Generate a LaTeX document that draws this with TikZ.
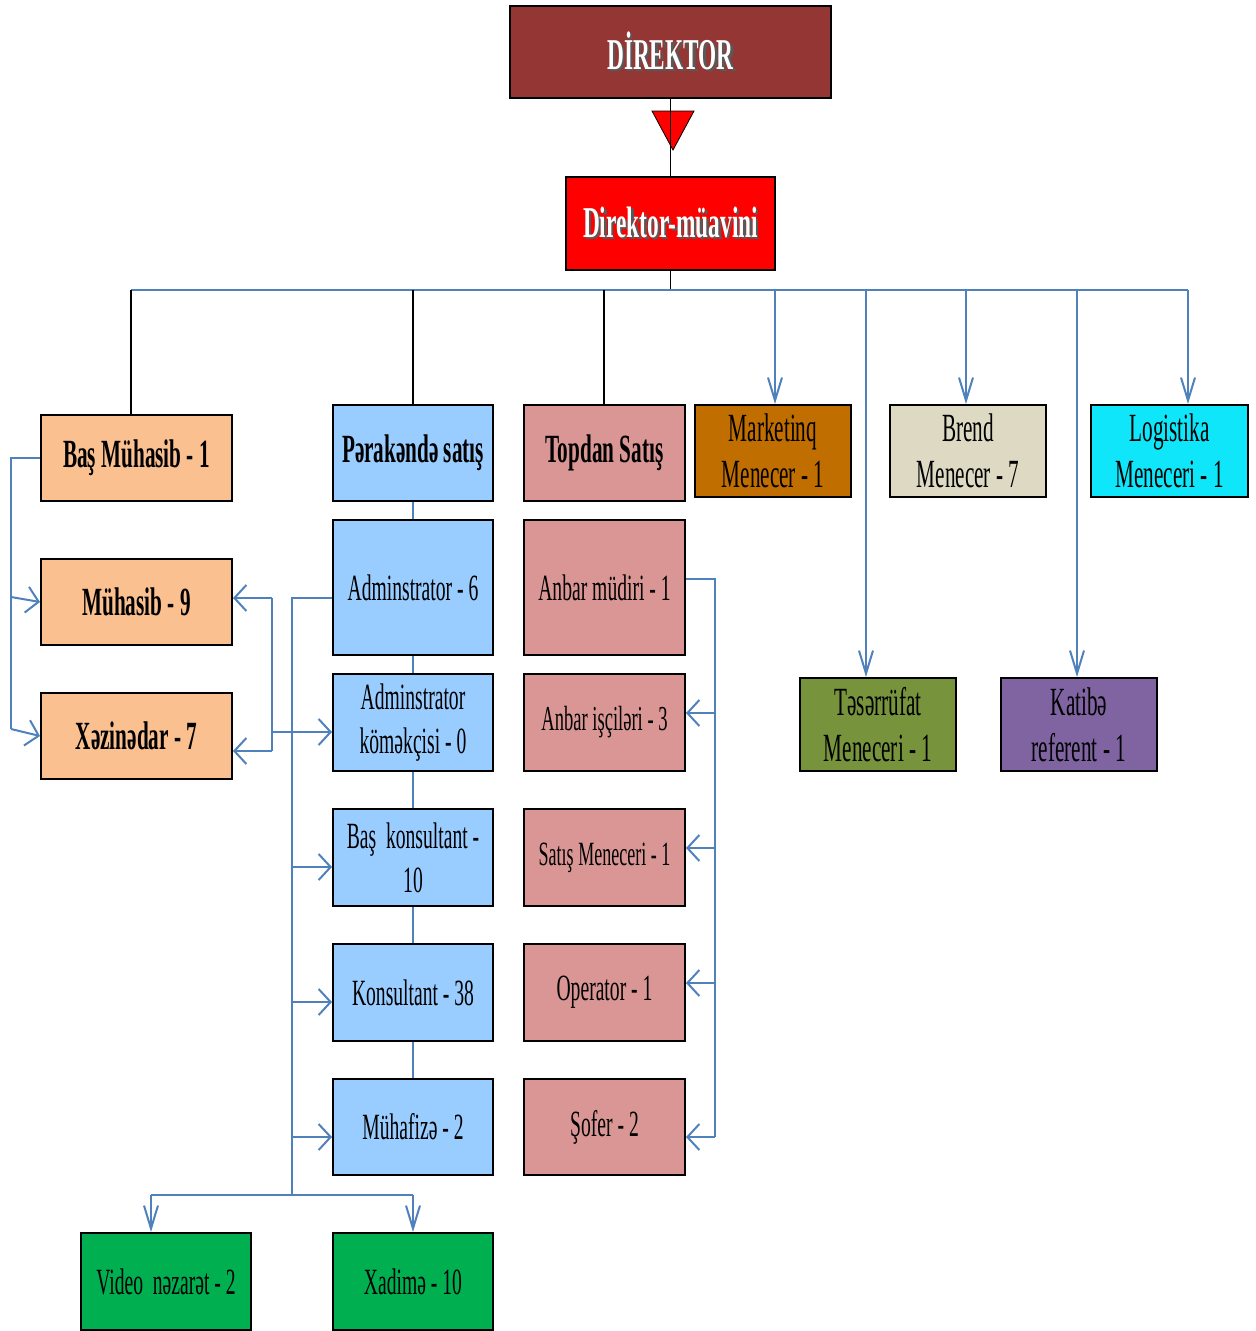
\documentclass[tikz,border=0pt]{standalone}
\usepackage{fontspec}
\setmainfont[FakeStretch=0.53]{Liberation Serif}
\usetikzlibrary{arrows.meta}

\definecolor{dirred}{RGB}{148,54,52}
\definecolor{depred}{RGB}{255,0,0}
\definecolor{peach}{RGB}{250,192,144}
\definecolor{skyblue}{RGB}{153,204,255}
\definecolor{rosepink}{RGB}{217,150,148}
\definecolor{amber}{RGB}{192,110,0}
\definecolor{beige}{RGB}{221,217,195}
\definecolor{aqua}{RGB}{15,230,250}
\definecolor{olive}{RGB}{119,147,60}
\definecolor{violet}{RGB}{128,100,162}
\definecolor{grass}{RGB}{0,176,80}
\definecolor{lineblue}{RGB}{79,129,189}

% white title text with a soft dark drop shadow
\newcommand{\shadowed}[1]{\rlap{\kern2.5pt\raisebox{-2.5pt}{\textcolor{black!65}{#1}}}#1}

\tikzset{
  box/.style={draw=black, line width=2pt, rectangle, inner sep=0pt, align=center, text=black},
  reg/.style={font=\fontsize{37}{44}\selectfont},
  big/.style={font=\fontsize{40}{46}\selectfont},
  bld/.style={font=\fontsize{40}{46}\selectfont\bfseries},
  ttl/.style={font=\fontsize{44}{50}\selectfont\bfseries, text=white},
  link/.style={draw=lineblue, line width=2pt},
  tree/.style={draw=black, line width=1.5pt},
  harr/.style={link, -{Straight Barb[length=12pt,width=26pt]}},
  varr/.style={link, -{Straight Barb[length=23pt,width=14pt]}},
}

\begin{document}
\begin{tikzpicture}[x=1pt, y=-1pt]
\useasboundingbox (0,0) rectangle (1256,1331);

% top management
\node[box, ttl, fill=dirred, minimum width=321pt, minimum height=92pt] (dir) at (670.5,52) {\shadowed{DİREKTOR}};
\node[box, ttl, fill=depred, minimum width=209pt, minimum height=93pt] (dep) at (670.5,223.5) {\shadowed{Direktor-müavini}};

% accounting
\node[box, bld, fill=peach, minimum width=191pt, minimum height=86pt] (bm)  at (136.5,458) {Baş Mühasib - 1};
\node[box, bld, fill=peach, minimum width=191pt, minimum height=86pt] (muh) at (136.5,602) {Mühasib - 9};
\node[box, bld, fill=peach, minimum width=191pt, minimum height=86pt] (xez) at (136.5,736) {Xəzinədar - 7};

% retail column
\node[box, bld, fill=skyblue, minimum width=160pt, minimum height=96pt]  (pr)   at (413,453)    {Pərakəndə satış};
\node[box, reg, fill=skyblue, minimum width=160pt, minimum height=135pt] (adm)  at (413,587.5)  {Adminstrator - 6};
\node[box, reg, fill=skyblue, minimum width=160pt, minimum height=97pt]  (adk)  at (413,722.5)  {Adminstrator\\köməkçisi - 0};
\node[box, reg, fill=skyblue, minimum width=160pt, minimum height=97pt]  (bk)   at (413,857.5)  {Baş\ \ konsultant -\\10};
\node[box, reg, fill=skyblue, minimum width=160pt, minimum height=97pt]  (kon)  at (413,992.5)  {Konsultant - 38};
\node[box, reg, fill=skyblue, minimum width=160pt, minimum height=96pt]  (muhf) at (413,1127)   {Mühafizə - 2};

% wholesale column
\node[box, bld, fill=rosepink, minimum width=161pt, minimum height=96pt]  (top) at (604.5,453)   {Topdan Satış};
\node[box, reg, fill=rosepink, minimum width=161pt, minimum height=135pt] (anb) at (604.5,587.5) {Anbar müdiri - 1};
\node[box, reg, fill=rosepink, minimum width=161pt, minimum height=97pt, font=\fontsize{35}{42}\selectfont]  (ai)  at (604.5,722.5) {Anbar işçiləri - 3};
\node[box, reg, fill=rosepink, minimum width=161pt, minimum height=97pt, font=\fontsize{34}{42}\selectfont]  (sm)  at (604.5,857.5) {Satış Meneceri - 1};
\node[box, reg, fill=rosepink, minimum width=161pt, minimum height=97pt]  (op)  at (604.5,992.5) {Operator - 1};
\node[box, reg, fill=rosepink, minimum width=161pt, minimum height=96pt]  (sof) at (604.5,1127)  {Şofer - 2};

% managers
\node[box, big, fill=amber,  minimum width=156pt, minimum height=92pt] (mkt) at (773,451)    {Marketinq\\Menecer - 1};
\node[box, big, fill=beige,  minimum width=156pt, minimum height=92pt] (br)  at (968,451)    {Brend\\Menecer - 7};
\node[box, big, fill=aqua,   minimum width=157pt, minimum height=92pt] (log) at (1169.5,451) {Logistika\\Meneceri - 1};
\node[box, big, fill=olive,  minimum width=156pt, minimum height=93pt] (tes) at (878,724.5)  {Təsərrüfat\\Meneceri - 1};
\node[box, big, fill=violet, minimum width=156pt, minimum height=93pt] (kat) at (1079,724.5) {Katibə\\referent - 1};

% service staff
\node[box, reg, fill=grass, minimum width=170pt, minimum height=97pt] (vn)  at (166,1281.5) {Video\ \ nəzarət - 2};
\node[box, reg, fill=grass, minimum width=160pt, minimum height=97pt] (xad) at (413,1281.5) {Xadimə - 10};

% director to deputy, with the red marker
\fill[depred, draw=black, line width=0.8pt] (652,111) -- (694,111) -- (673,150) -- cycle;
\draw[tree] (dir.south) -- (dep.north);

% distribution bus
\coordinate (b1) at (131,290);
\coordinate (b2) at (413,290);
\coordinate (b3) at (604,290);
\coordinate (b4) at (775,290);
\coordinate (b5) at (866,290);
\coordinate (b6) at (966,290);
\coordinate (b7) at (1077,290);
\coordinate (b8) at (1188,290);
\draw[tree] (dep.south) -- (dep.south |- b1);
\draw[link] (b1) -- (b8);
\draw[tree] (b1) -- (b1 |- bm.north);
\draw[tree] (b2) -- (b2 |- pr.north);
\draw[tree] (b3) -- (b3 |- top.north);
\draw[varr] (b4) -- (b4 |- mkt.north);
\draw[varr] (b5) -- (b5 |- tes.north);
\draw[varr] (b6) -- (b6 |- br.north);
\draw[varr] (b7) -- (b7 |- kat.north);
\draw[varr] (b8) -- (b8 |- log.north);

% accounting links
\coordinate (l1) at (11,597);
\coordinate (l2) at (11,729);
\draw[link] (bm.west) -| (l2);
\draw[harr] (l1) -- (muh.west);
\draw[harr] (l2) -- (xez.west);
\coordinate (r1) at (272,598);
\coordinate (r2) at (272,751);
\coordinate (r3) at (272,732);
\draw[link] (r1) -- (r2);
\draw[harr] (r1) -- (r1 -| muh.east);
\draw[harr] (r2) -- (r2 -| xez.east);
\draw[harr] (r3) -- (r3 -| adk.west);

% retail column links
\draw[link] (pr.south) -- (adm.north);
\draw[link] (adm.south) -- (adk.north);
\draw[link] (adk.south) -- (bk.north);
\draw[link] (bk.south) -- (kon.north);
\draw[link] (kon.south) -- (muhf.north);
\coordinate (v0) at (292,598);
\coordinate (v1) at (292,867);
\coordinate (v2) at (292,1002);
\coordinate (v3) at (292,1137);
\coordinate (v4) at (292,1195);
\draw[link] (v0 -| adm.west) -- (v0) -- (v4);
\draw[harr] (v1) -- (v1 -| bk.west);
\draw[harr] (v2) -- (v2 -| kon.west);
\draw[harr] (v3) -- (v3 -| muhf.west);
\coordinate (w1) at (151,1195);
\coordinate (w2) at (413,1195);
\draw[link] (w1) -- (w2);
\draw[varr] (w1) -- (w1 |- vn.north);
\draw[varr] (w2) -- (w2 |- xad.north);

% wholesale column links
\coordinate (t0) at (715,579);
\coordinate (t1) at (715,713);
\coordinate (t2) at (715,848);
\coordinate (t3) at (715,983);
\coordinate (t4) at (715,1137);
\draw[link] (t0 -| anb.east) -- (t0) -- (t4);
\draw[harr] (t1) -- (t1 -| ai.east);
\draw[harr] (t2) -- (t2 -| sm.east);
\draw[harr] (t3) -- (t3 -| op.east);
\draw[harr] (t4) -- (t4 -| sof.east);
\end{tikzpicture}
\end{document}
